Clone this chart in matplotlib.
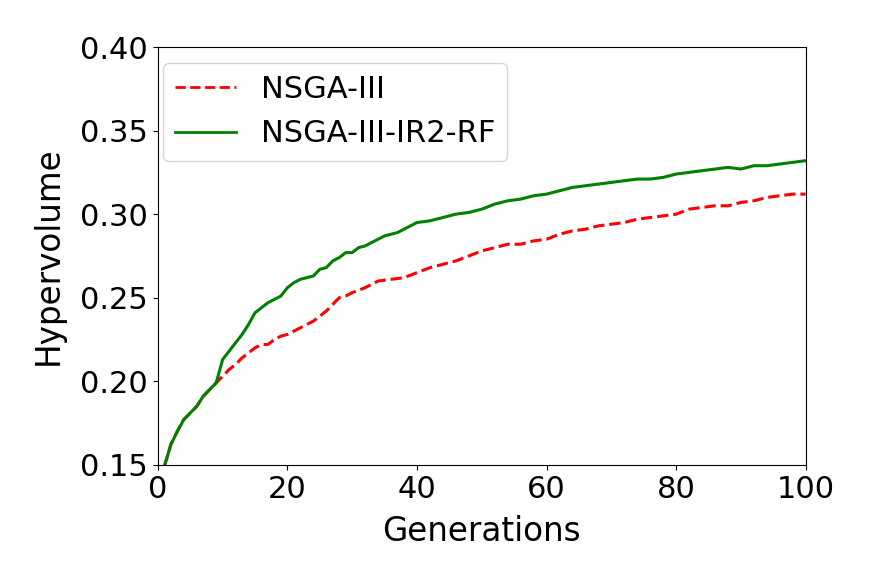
import numpy as np
import matplotlib.pyplot as plt

gen_rf = [1, 2, 3, 4, 5, 6, 7, 8, 9, 10, 11, 12, 13, 14, 15, 16, 17, 18, 19, 20,
          21, 22, 23, 24, 25, 26, 27, 28, 29, 30, 31, 32, 33, 34, 35, 36, 37, 38,
          39, 40, 42, 44, 46, 48, 50, 52, 54, 56, 58, 60, 62, 64, 66, 68, 70, 72,
          74, 76, 78, 80, 82, 84, 86, 88, 90, 92, 94, 96, 98, 100]
hv_rf = [0.149, 0.162, 0.170, 0.177, 0.181, 0.185, 0.191, 0.195, 0.199, 0.213,
         0.218, 0.223, 0.228, 0.234, 0.241, 0.244, 0.247, 0.249, 0.251, 0.256,
         0.259, 0.261, 0.262, 0.263, 0.267, 0.268, 0.272, 0.274, 0.277, 0.277,
         0.280, 0.281, 0.283, 0.285, 0.287, 0.288, 0.289, 0.291, 0.293, 0.295,
         0.296, 0.298, 0.300, 0.301, 0.303, 0.306, 0.308, 0.309, 0.311, 0.312,
         0.314, 0.316, 0.317, 0.318, 0.319, 0.320, 0.321, 0.321, 0.322, 0.324,
         0.325, 0.326, 0.327, 0.328, 0.327, 0.329, 0.329, 0.330, 0.331, 0.332]

gen_base = [1, 2, 3, 4, 5, 6, 7, 8, 9, 10, 11, 12, 13, 14, 15, 16, 17, 18, 19, 20,
            22, 24, 26, 28, 29, 30, 32, 34, 36, 38, 40, 42, 44, 46, 48, 50, 52, 54,
            56, 58, 60, 62, 64, 66, 68, 70, 72, 74, 76, 78, 80, 82, 84, 86, 88, 90,
            92, 94, 96, 98, 100]
hv_base = [0.149, 0.162, 0.170, 0.177, 0.181, 0.185, 0.191, 0.195, 0.199, 0.203,
           0.207, 0.210, 0.214, 0.217, 0.220, 0.222, 0.222, 0.225, 0.227, 0.228,
           0.232, 0.236, 0.242, 0.250, 0.251, 0.253, 0.256, 0.260, 0.261, 0.262,
           0.265, 0.268, 0.270, 0.272, 0.275, 0.278, 0.280, 0.282, 0.282, 0.284,
           0.285, 0.288, 0.290, 0.291, 0.293, 0.294, 0.295, 0.297, 0.298, 0.299,
           0.300, 0.303, 0.304, 0.305, 0.305, 0.307, 0.308, 0.310, 0.311, 0.312, 0.312]

fig = plt.figure(figsize=(8.72, 5.81), dpi=100)
ax = fig.add_axes([0.181, 0.200, 0.743, 0.719])

ax.plot(gen_base, hv_base, 'r--', linewidth=2.2, label='NSGA-III')
ax.plot(gen_rf, hv_rf, color='green', linewidth=2.2, label='NSGA-III-IR2-RF')

ax.set_xlim(0, 100)
ax.set_ylim(0.15, 0.40)
ax.set_xticks([0, 20, 40, 60, 80, 100])
ax.set_yticks([0.15, 0.20, 0.25, 0.30, 0.35, 0.40])
ax.tick_params(labelsize=22)
ax.set_xlabel('Generations', fontsize=23.5, labelpad=8)
ax.set_ylabel('Hypervolume', fontsize=23.5, labelpad=11)
leg = ax.legend(loc='upper left', fontsize=22, bbox_to_anchor=(0.008, 0.962),
                borderaxespad=0)
for line in leg.get_lines():
    line.set_linewidth(2.0)

fig.savefig('out.png', dpi=100)
